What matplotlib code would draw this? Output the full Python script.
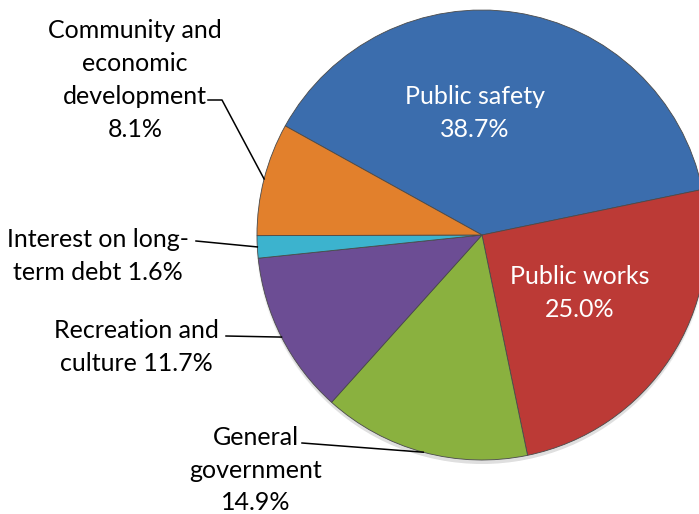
import matplotlib.pyplot as plt
import numpy as np

plt.rcParams['font.family'] = ['Lato', 'DejaVu Sans']

# slice data, clockwise from the top-left
names = ['Public safety', 'Public works', 'General government',
         'Recreation and culture', 'Interest on long-term debt',
         'Community and economic development']
shares = [38.7, 25.0, 14.9, 11.7, 1.6, 8.1]
colors = ['#3B6DAD', '#BC3A36', '#8AB13F', '#6C4D94', '#3CB3CE', '#E2802C']

# label text as shown on the chart
label_text = ['Public safety\n38.7%', 'Public works\n25.0%',
              'General\ngovernment\n14.9%', 'Recreation and\nculture 11.7%',
              'Interest on long-\nterm debt 1.6%',
              'Community and\neconomic\ndevelopment\n8.1%']

W, H = 699, 514
fig = plt.figure(figsize=(W / 100, H / 100), dpi=100)
ax = fig.add_axes([0, 0, 1, 1])

cx, cy, r = 482, H - 235, 225

# soft shadow under the pie
for k, a in enumerate([0.04, 0.04, 0.05]):
    sh = plt.Circle((cx, cy - 3 - k), r + 1 - k, color='black', alpha=a, lw=0)
    ax.add_patch(sh)

wedges, _ = ax.pie(shares, colors=colors, startangle=151, counterclock=False,
                   center=(cx, cy), radius=r, frame=True,
                   wedgeprops=dict(edgecolor='#4a4a4a', linewidth=0.6))
ax.set_xlim(0, W)
ax.set_ylim(0, H)
ax.set_aspect('equal')
ax.axis('off')

fs = 18
ls = 1.52

# inside labels
ax.text(475, H - 113, label_text[0], ha='center', va='center', color='white',
        fontsize=fs, linespacing=ls)
ax.text(580, H - 293, label_text[1], ha='center', va='center', color='white',
        fontsize=fs, linespacing=ls)

# outside labels: (text centre, leader start)
outside = {
    2: ((256, 470), [(302, 443)]),
    3: ((136, 347), [(226, 336)]),
    4: ((98, 256), [(196, 241)]),
    5: ((135, 80), [(208, 100), (222, 100)]),
}
for i, ((tx, ty), pts) in outside.items():
    ax.text(tx, H - ty, label_text[i], ha='center', va='center', color='black',
            fontsize=fs, linespacing=ls)
    w = wedges[i]
    mid = np.deg2rad((w.theta1 + w.theta2) / 2)
    ex, ey = cx + r * np.cos(mid), cy + r * np.sin(mid)
    xs = [p[0] for p in pts] + [ex]
    ys = [H - p[1] for p in pts] + [ey]
    ax.plot(xs, ys, color='black', lw=1.1)

fig.savefig('out.png', dpi=100)
